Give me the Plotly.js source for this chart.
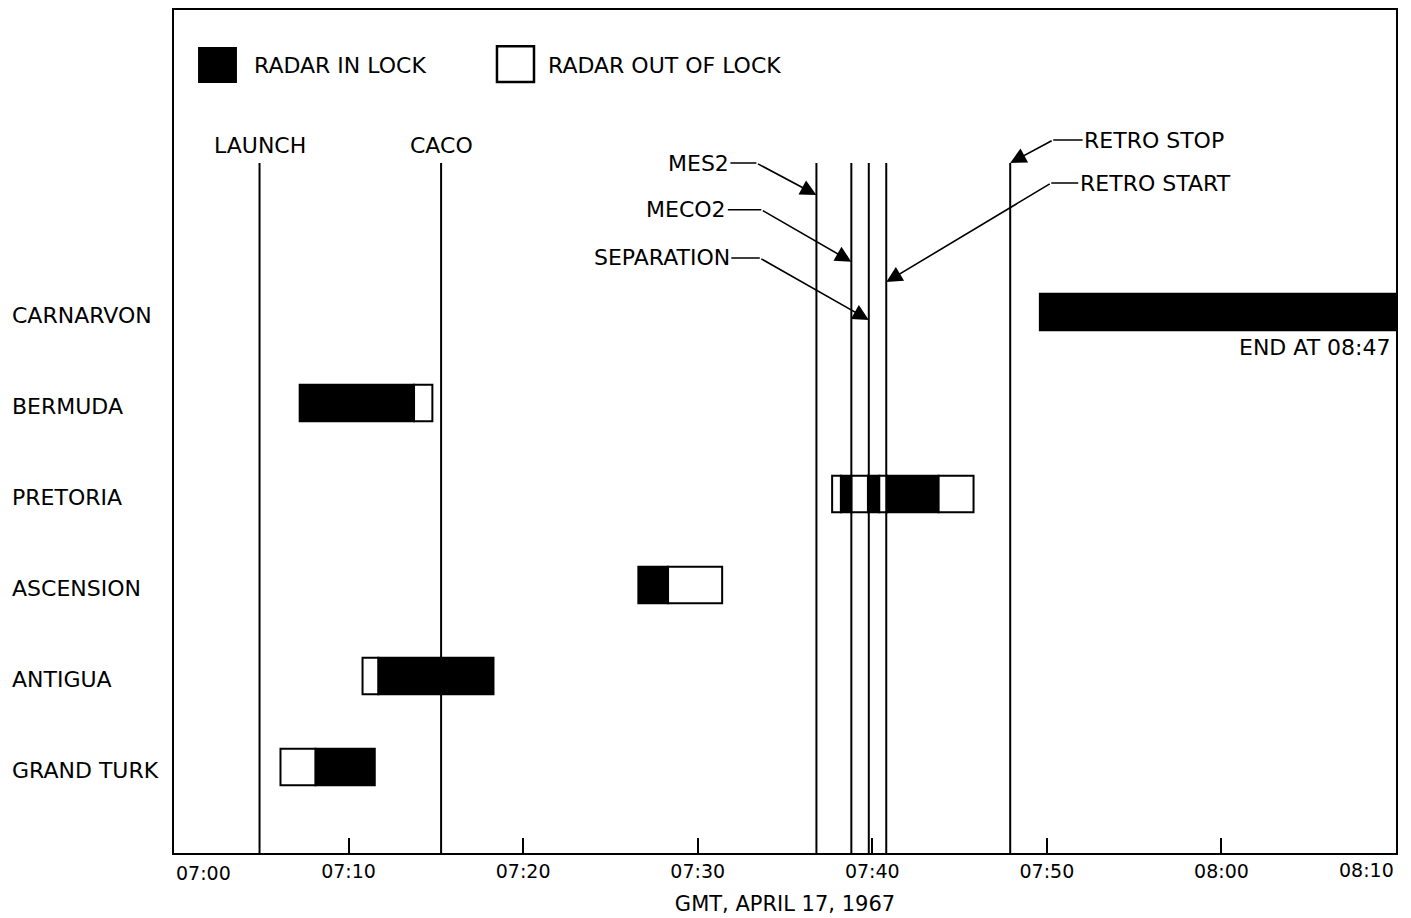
<!DOCTYPE html>
<html><head><meta charset="utf-8">
<script src="https://cdn.plot.ly/plotly-3.0.1.min.js"></script>
<style>html,body{margin:0;padding:0;background:#fff}#chart{width:1411px;height:918px}</style>
</head><body><div id="chart"></div>
<script>
// ---- DATA (times in minutes after 07:00 GMT) ----
const stations = ["GRAND TURK", "ANTIGUA", "ASCENSION", "PRETORIA", "BERMUDA", "CARNARVON"];

const segStation = ["GRAND TURK", "GRAND TURK",
                    "ANTIGUA", "ANTIGUA",
                    "ASCENSION", "ASCENSION",
                    "PRETORIA", "PRETORIA", "PRETORIA", "PRETORIA", "PRETORIA", "PRETORIA", "PRETORIA",
                    "BERMUDA", "BERMUDA",
                    "CARNARVON"];
const segStart = [6.1, 8.1,
                  10.8, 11.7,
                  26.6, 28.3,
                  37.7, 38.2, 38.8, 39.75, 40.4, 40.85, 43.8,
                  7.2, 13.75,
                  49.6];
const segEnd   = [8.1, 11.5,
                  11.7, 18.3,
                  28.3, 31.4,
                  38.2, 38.8, 39.75, 40.4, 40.85, 43.8, 45.8,
                  13.75, 14.8,
                  107];            // Carnarvon ends at 08:47
const segInLock = [false, true,
                   false, true,
                   true, false,
                   false, true, false, true, false, true, false,
                   true, false,
                   true];

const eventNames = ["LAUNCH", "CACO", "MES2", "MECO2", "SEPARATION", "RETRO START", "RETRO STOP"];
const eventTimes = [4.9, 15.3, 36.8, 38.8, 39.8, 40.8, 47.9];

const tickMinutes = [0, 10, 20, 30, 40, 50, 60, 70];
const tickLabels  = ["07:00", "07:10", "07:20", "07:30", "07:40", "07:50", "08:00", "08:10"];

const legendLabels = ["RADAR IN LOCK", "RADAR OUT OF LOCK"];
const xTitle = "GMT, APRIL 17, 1967";
const endNote = "END AT 08:47";

// ---- LAYOUT GEOMETRY ----
const FONT = "DejaVu Sans";
const BLACK = "#000";
const lineTopPaper = 0.8185;
// label geometry (pixel offsets), keyed by event name
const arrowGeom = {
  "MES2":        {tip: 0.7805, dx: -60, dy: -32, tx: -58},
  "MECO2":       {tip: 0.7014, dx: -90, dy: -52, tx: -75},
  "SEPARATION":  {tip: 0.6323, dx: -109, dy: -62, tx: -98},
  "RETRO START": {tip: 0.6773, dx: 165, dy: -99, tx: 104},
  "RETRO STOP":  {tip: 0.8185, dx: 43, dy: -23, tx: 101}
};
const plainLabelY = 0.8387;

// ---- TRACES ----
function barTrace(lock) {
  const ys = [], bases = [], lens = [];
  segStation.forEach((s, i) => {
    if (segInLock[i] !== lock) return;
    ys.push(stations.indexOf(s));
    bases.push(segStart[i]);
    lens.push(segEnd[i] - segStart[i]);
  });
  return {
    type: "bar", orientation: "h", y: ys, base: bases, x: lens, width: 0.4,
    marker: {color: lock ? BLACK : "#fff", line: {color: BLACK, width: 2}},
    name: lock ? legendLabels[0] : legendLabels[1], hoverinfo: "skip", showlegend: false
  };
}
const traces = [barTrace(true), barTrace(false)];

// ---- SHAPES ----
const shapes = eventTimes.map(t => ({
  type: "line", xref: "x", yref: "paper", x0: t, x1: t, y0: 0, y1: lineTopPaper,
  line: {color: BLACK, width: 2}, layer: "above"
}));
// legend swatches
shapes.push({type: "rect", xref: "paper", yref: "paper", x0: 0.0205, x1: 0.0507, y0: 0.9146, y1: 0.955,
             fillcolor: BLACK, line: {color: BLACK, width: 2}});
shapes.push({type: "rect", xref: "paper", yref: "paper", x0: 0.2643, x1: 0.2946, y0: 0.9146, y1: 0.957,
             fillcolor: "#fff", line: {color: BLACK, width: 2.5}});

// ---- ANNOTATIONS ----
const txtFont = {family: FONT, size: 22, color: BLACK};
const annotations = [];
stations.forEach((s, i) => annotations.push({
  xref: "paper", yref: "y", x: -0.1342, y: i, xanchor: "left", yanchor: "middle", yshift: -3,
  text: s, showarrow: false, font: txtFont
}));
annotations.push({xref: "paper", yref: "paper", x: 0.0638, y: 0.9336, xanchor: "left", yanchor: "middle",
                  text: legendLabels[0], showarrow: false, font: txtFont});
annotations.push({xref: "paper", yref: "paper", x: 0.3044, y: 0.9336, xanchor: "left", yanchor: "middle",
                  text: legendLabels[1], showarrow: false, font: txtFont});
eventNames.forEach((n, i) => {
  const t = eventTimes[i];
  const g = arrowGeom[n];
  if (!g) {
    annotations.push({xref: "x", yref: "paper", x: t, y: plainLabelY, xanchor: "center", yanchor: "middle",
                      text: n, showarrow: false, font: txtFont});
    return;
  }
  // diagonal arrow with head
  annotations.push({xref: "x", yref: "paper", x: t, y: g.tip, text: "", showarrow: true,
                    ax: g.dx, ay: g.dy, arrowhead: 2, arrowsize: 2, arrowwidth: 1.6, arrowcolor: BLACK, standoff: 0});
  // text with horizontal leader to the elbow
  annotations.push({xref: "x", yref: "paper", x: t, y: g.tip, xshift: g.dx, yshift: -g.dy,
                    text: n, showarrow: true, ax: g.tx, ay: 0, arrowhead: 0, arrowwidth: 1.6,
                    arrowcolor: BLACK, standoff: 0, font: txtFont});
});
annotations.push({xref: "paper", yref: "paper", x: 1, y: 0.6002, xanchor: "right", yanchor: "middle", xshift: -4,
                  text: endNote, showarrow: false, font: txtFont});
// end tick labels (left/right aligned at the frame corners)
annotations.push({xref: "x", yref: "paper", x: tickMinutes[0], y: 0, xanchor: "left", yanchor: "top", yshift: -7,
                  text: tickLabels[0], showarrow: false, font: {family: FONT, size: 19, color: BLACK}});
annotations.push({xref: "x", yref: "paper", x: tickMinutes[tickMinutes.length - 1], y: 0, xanchor: "right", yanchor: "top", yshift: -4,
                  text: tickLabels[tickLabels.length - 1], showarrow: false, font: {family: FONT, size: 19, color: BLACK}});

const layout = {
  width: 1411, height: 918,
  margin: {l: 174, r: 15, t: 10, b: 65},
  paper_bgcolor: "#fff", plot_bgcolor: "#fff",
  barmode: "overlay", showlegend: false,
  font: {family: FONT, color: BLACK},
  xaxis: {
    range: [0, 70], showgrid: false, zeroline: false,
    showline: true, mirror: true, linecolor: BLACK, linewidth: 2,
    ticks: "inside", ticklen: 15, tickwidth: 2, tickcolor: BLACK,
    tickvals: tickMinutes.slice(1, -1), ticktext: tickLabels.slice(1, -1),
    tickfont: {family: FONT, size: 19, color: BLACK},
    title: {text: xTitle, font: {family: FONT, size: 21, color: BLACK}, standoff: 16},
    automargin: false, fixedrange: true
  },
  yaxis: {
    range: [-0.945, 8.319], showgrid: false, zeroline: false, showticklabels: false, ticks: "",
    showline: true, mirror: true, linecolor: BLACK, linewidth: 2, automargin: false, fixedrange: true
  },
  shapes: shapes,
  annotations: annotations
};

Plotly.newPlot("chart", traces, layout, {displayModeBar: false, staticPlot: true});
</script>
</body></html>
